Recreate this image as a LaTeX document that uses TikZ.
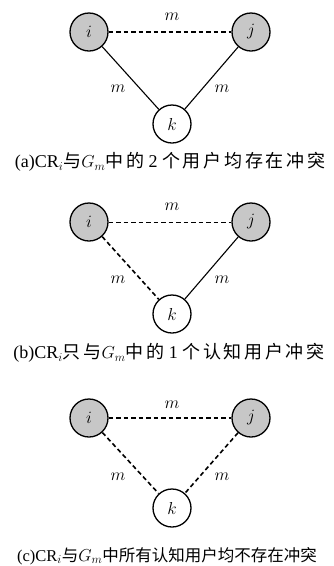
\documentclass[tikz,border=0pt]{standalone}
\usepackage{fontspec}
\setmainfont{Liberation Serif}
\newfontfamily\cjk[LetterSpace=15]{Noto Sans CJK SC}
\newfontfamily\cjktight{Noto Sans CJK SC}
\begin{document}
\begin{tikzpicture}[x=1pt,y=-1pt,
  usr/.style={circle,draw,line width=1.3pt,minimum size=38pt,inner sep=0pt,font=\fontsize{17}{17}\selectfont},
  cog/.style={usr,fill=black!22},
  solidedge/.style={line width=1.1pt},
  dashedge/.style={line width=1.6pt,dash pattern=on 4.5pt off 3pt},
  thindash/.style={line width=1pt,dash pattern=on 4.5pt off 3pt},
  lbl/.style={font=\fontsize{17}{17}\selectfont},
  captext/.style={font=\fontsize{18}{20}\selectfont,inner sep=0pt}]
\useasboundingbox (0,0) rectangle (334,566);
% (a)
\node[cog] (ia) at (89,32) {$i$};
\node[cog] (ja) at (251,32) {$j$};
\node[usr,fill=white] (ka) at (172,124) {$k$};
\draw[dashedge] (ia) -- (ja);
\draw[solidedge] (ia) -- (ka);
\draw[solidedge] (ja) -- (ka);
\node[lbl] (ma1) at (172,17) {$m$};
\node[lbl] (ma2) at (118,89) {$m$};
\node[lbl] (ma3) at (222,89) {$m$};
\node[captext] (capa) at (170,162) {(a)CR$_i${\cjk 与}$G_m${\cjk 中的} 2 {\cjk 个用户均存在冲突}};
% (b)
\node[cog] (ib) at (89,222) {$i$};
\node[cog] (jb) at (251,222) {$j$};
\node[usr,fill=white] (kb) at (172,314) {$k$};
\draw[thindash] (ib) -- (jb);
\draw[dashedge] (ib) -- (kb);
\draw[solidedge] (jb) -- (kb);
\node[lbl] (mb1) at (172,207) {$m$};
\node[lbl] (mb2) at (118,280) {$m$};
\node[lbl] (mb3) at (222,280) {$m$};
\node[captext] (capb) at (169,353) {(b)CR$_i${\cjk 只与}$G_m${\cjk 中的} 1 {\cjk 个认知用户冲突}};
% (c)
\node[cog] (ic) at (89,418) {$i$};
\node[cog] (jc) at (251,418) {$j$};
\node[usr,fill=white] (kc) at (172,508) {$k$};
\draw[dashedge] (ic) -- (jc);
\draw[dashedge] (ic) -- (kc);
\draw[dashedge] (jc) -- (kc);
\node[lbl] (mc1) at (172,405) {$m$};
\node[lbl] (mc2) at (118,477) {$m$};
\node[lbl] (mc3) at (222,477) {$m$};
\node[captext,font=\fontsize{16.5}{19}\selectfont] (capc) at (167,556) {(c)CR$_i${\cjktight 与}$G_m${\cjktight 中所有认知用户均不存在冲突}};
\end{tikzpicture}
\end{document}
